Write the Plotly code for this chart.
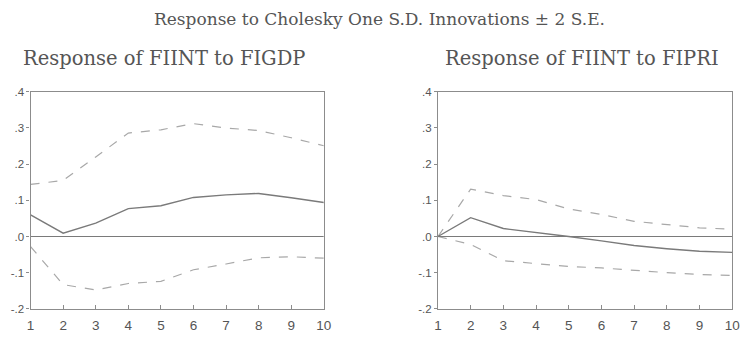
import plotly.graph_objects as go

# Impulse-response periods
periods = [1, 2, 3, 4, 5, 6, 7, 8, 9, 10]

# Response of FIINT to FIGDP: point estimate and +/- 2 S.E. bands
gdp_resp = [0.060, 0.009, 0.037, 0.077, 0.085, 0.108, 0.115, 0.119, 0.107, 0.094]
gdp_upper = [0.144, 0.155, 0.220, 0.286, 0.295, 0.312, 0.300, 0.293, 0.273, 0.251]
gdp_lower = [-0.028, -0.133, -0.148, -0.130, -0.124, -0.092, -0.076, -0.059, -0.056, -0.060]

# Response of FIINT to FIPRI: point estimate and +/- 2 S.E. bands
pri_resp = [0.000, 0.052, 0.022, 0.012, 0.000, -0.012, -0.025, -0.034, -0.041, -0.044]
pri_upper = [0.000, 0.131, 0.113, 0.102, 0.076, 0.061, 0.042, 0.033, 0.024, 0.020]
pri_lower = [0.000, -0.022, -0.067, -0.076, -0.083, -0.087, -0.094, -0.100, -0.105, -0.108]

y_ticks = [0.4, 0.3, 0.2, 0.1, 0.0, -0.1, -0.2]
y_tick_text = [".4", ".3", ".2", ".1", ".0", "-.1", "-.2"]

main_title = "Response to Cholesky One S.D. Innovations \u00b1 2 S.E."
panel_titles = ["Response of FIINT to FIGDP", "Response of FIINT to FIPRI"]

W, H = 751, 337
SERIF = "DejaVu Serif, Liberation Serif, serif"
SANS = "Liberation Sans, Arial, sans-serif"
TEXT_COLOR = "#555555"
MID_COLOR = "#7a7a7a"
BAND_COLOR = "#a8a8a8"
AXIS_COLOR = "#8c8c8c"

fig = go.Figure()

panels = [
    (gdp_resp, gdp_upper, gdp_lower, "x", "y"),
    (pri_resp, pri_upper, pri_lower, "x2", "y2"),
]
for resp, up, lo, xa, ya in panels:
    fig.add_trace(go.Scatter(x=periods, y=up, mode="lines", xaxis=xa, yaxis=ya,
                             line=dict(color=BAND_COLOR, width=1.2, dash="dash"),
                             showlegend=False, hoverinfo="skip"))
    fig.add_trace(go.Scatter(x=periods, y=lo, mode="lines", xaxis=xa, yaxis=ya,
                             line=dict(color=BAND_COLOR, width=1.2, dash="dash"),
                             showlegend=False, hoverinfo="skip"))
    fig.add_trace(go.Scatter(x=periods, y=resp, mode="lines", xaxis=xa, yaxis=ya,
                             line=dict(color=MID_COLOR, width=1.4),
                             showlegend=False, hoverinfo="skip"))
    # zero reference line
    fig.add_trace(go.Scatter(x=[periods[0], periods[-1]], y=[0, 0], mode="lines",
                             xaxis=xa, yaxis=ya,
                             line=dict(color=MID_COLOR, width=1.2),
                             showlegend=False, hoverinfo="skip"))

y_dom = [(H - 314) / H, (H - 89) / H]
x_doms = [[27 / W, 325 / W], [441 / W, 740 / W]]

xaxis_common = dict(range=[1, 10], tickvals=periods, ticks="inside", ticklen=4,
                    tickcolor=AXIS_COLOR, showline=True, linecolor=AXIS_COLOR,
                    linewidth=1.2, mirror=True, showgrid=False, zeroline=False,
                    ticklabelstandoff=4,
                    tickfont=dict(family=SANS, size=13.5, color=TEXT_COLOR))
yaxis_common = dict(range=[-0.2, 0.4], tickvals=y_ticks, ticktext=y_tick_text,
                    ticks="outside", ticklen=3, tickcolor=AXIS_COLOR,
                    showline=True, linecolor=AXIS_COLOR, linewidth=1.2, mirror=True,
                    showgrid=False, zeroline=False, domain=y_dom,
                    tickfont=dict(family=SANS, size=11.5, color=TEXT_COLOR))

fig.update_layout(
    width=W, height=H,
    margin=dict(l=0, r=0, t=0, b=0),
    paper_bgcolor="white", plot_bgcolor="white",
    xaxis=dict(domain=x_doms[0], anchor="y", **xaxis_common),
    yaxis=dict(anchor="x", **yaxis_common),
    xaxis2=dict(domain=x_doms[1], anchor="y2", **xaxis_common),
    yaxis2=dict(anchor="x2", **yaxis_common),
    annotations=[
        dict(text=main_title, x=381.5 / W, y=(H - 13) / H, xref="paper", yref="paper",
             showarrow=False, xanchor="center", yanchor="middle",
             font=dict(family=SERIF, size=17, color=TEXT_COLOR)),
        dict(text=panel_titles[0], x=162.5 / W, y=(H - 54) / H, xref="paper", yref="paper",
             showarrow=False, xanchor="center", yanchor="middle",
             font=dict(family=SERIF, size=19.5, color=TEXT_COLOR)),
        dict(text=panel_titles[1], x=587.5 / W, y=(H - 54) / H, xref="paper", yref="paper",
             showarrow=False, xanchor="center", yanchor="middle",
             font=dict(family=SERIF, size=19.5, color=TEXT_COLOR)),
    ],
)

fig.write_html("out.html")
